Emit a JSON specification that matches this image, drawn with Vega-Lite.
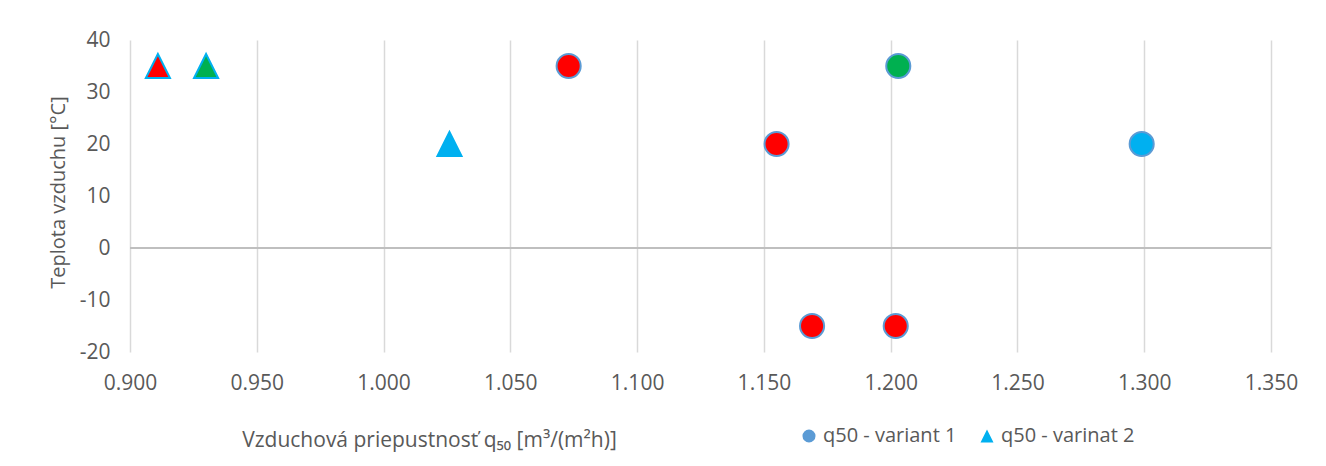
{
  "$schema": "https://vega.github.io/schema/vega-lite/v6.json",
  "autosize": {"type": "none"},
  "width": 1141,
  "height": 312,
  "padding": {"left": 130, "top": 40, "right": 55, "bottom": 114},
  "background": "white",
  "config": {
    "font": "Open Sans",
    "view": {"stroke": null},
    "axis": {
      "labelFont": "Open Sans",
      "titleFont": "Open Sans",
      "labelColor": "#595959",
      "titleColor": "#595959",
      "labelFontSize": 21,
      "titleFontSize": 20,
      "titleFontWeight": "normal",
      "gridColor": "#D9D9D9",
      "gridWidth": 1.5,
      "ticks": false,
      "domain": false,
      "labelFlush": false
    },
    "legend": {
      "labelFont": "Open Sans",
      "labelFontSize": 20,
      "labelColor": "#595959"
    }
  },
  "data": {
    "values": [
      {"q50": 1.073, "temp": 35, "series": "q50 - variant 1", "marker": "red"},
      {"q50": 1.155, "temp": 20, "series": "q50 - variant 1", "marker": "red"},
      {"q50": 1.203, "temp": 35, "series": "q50 - variant 1", "marker": "green"},
      {"q50": 1.299, "temp": 20, "series": "q50 - variant 1", "marker": "blue"},
      {"q50": 1.169, "temp": -15, "series": "q50 - variant 1", "marker": "red"},
      {"q50": 1.202, "temp": -15, "series": "q50 - variant 1", "marker": "red"},
      {"q50": 0.911, "temp": 35, "series": "q50 - varinat 2", "marker": "red"},
      {"q50": 0.930, "temp": 35, "series": "q50 - varinat 2", "marker": "green"},
      {"q50": 1.026, "temp": 20, "series": "q50 - varinat 2", "marker": "blue"}
    ]
  },
  "layer": [
    {
      "mark": {"type": "rule", "color": "#BFBFBF", "strokeWidth": 1.5},
      "encoding": {"y": {"datum": 0, "type": "quantitative"}}
    },
    {
      "mark": {"type": "point", "filled": true, "opacity": 1, "strokeWidth": 2, "size": 580},
      "encoding": {
        "x": {
          "field": "q50",
          "type": "quantitative",
          "scale": {"domain": [0.9, 1.35], "zero": false, "nice": false},
          "axis": {
            "values": [0.9, 0.95, 1.0, 1.05, 1.1, 1.15, 1.2, 1.25, 1.3, 1.35],
            "format": ".3f",
            "labelPadding": 20,
            "title": "Vzduchová priepustnosť q₅₀ [m³/(m²h)]",
            "titleFontSize": 21,
            "titleX": 299,
            "titleY": 88,
            "titleAlign": "center",
            "titleBaseline": "middle"
          }
        },
        "y": {
          "field": "temp",
          "type": "quantitative",
          "scale": {"domain": [-20, 40], "nice": false},
          "axis": {
            "values": [-20, -10, 0, 10, 20, 30, 40],
            "labelExpr": "replace(datum.label, '−', '-')",
            "labelPadding": 20,
            "title": "Teplota vzduchu [°C]",
            "titleX": -72,
            "titleY": 152,
            "titleAngle": -90,
            "titleAlign": "center",
            "titleBaseline": "middle"
          }
        },
        "shape": {
          "field": "series",
          "type": "nominal",
          "scale": {"domain": ["q50 - variant 1", "q50 - varinat 2"], "range": ["circle", "M0,-1L-1,1L1,1Z"]},
          "legend": {
            "title": null,
            "orient": "none",
            "direction": "horizontal",
            "legendX": 669,
            "legendY": 386,
            "symbolSize": 170,
            "symbolStrokeWidth": 0,
            "symbolOpacity": 1,
            "symbolFillColor": {"expr": "datum.value === 'q50 - variant 1' ? '#5B9BD5' : '#00B0F0'"},
            "labelOffset": 4,
            "columnPadding": 20
          }
        },
        "stroke": {
          "field": "series",
          "type": "nominal",
          "scale": {"domain": ["q50 - variant 1", "q50 - varinat 2"], "range": ["#5B9BD5", "#00B0F0"]},
          "legend": null
        },
        "fill": {
          "field": "marker",
          "type": "nominal",
          "scale": {"domain": ["red", "green", "blue"], "range": ["#FF0000", "#00B050", "#00B0F0"]},
          "legend": null
        }
      }
    }
  ]
}
